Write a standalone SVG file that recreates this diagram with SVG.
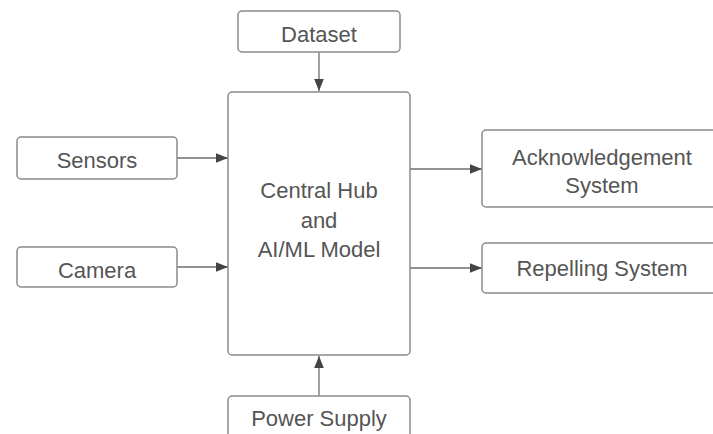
<svg xmlns="http://www.w3.org/2000/svg" width="713" height="434" viewBox="0 0 713 434">
<defs>
<style>
.box{fill:#fff;stroke:#8a8a8a;stroke-width:1.5}
.t{font-family:"Liberation Sans",Arial,sans-serif;font-size:22px;fill:#555;text-anchor:middle;dominant-baseline:central}
.c{stroke:#6e6e6e;stroke-width:1.3;fill:none;marker-end:url(#ah)}
</style>
<marker id="ah" viewBox="0 0 10 10" refX="10" refY="5" markerWidth="12" markerHeight="12" markerUnits="userSpaceOnUse" orient="auto">
<path d="M0,1 L10,5 L0,9 Z" fill="#444"/>
</marker>
</defs>
<rect width="713" height="434" fill="#fff"/>
<g id="connectors">
<line class="c" x1="319" y1="52" x2="319" y2="91"/>
<line class="c" x1="177" y1="158" x2="228" y2="158"/>
<line class="c" x1="177" y1="267" x2="228" y2="267"/>
<line class="c" x1="410" y1="169" x2="482" y2="169"/>
<line class="c" x1="410" y1="268" x2="482" y2="268"/>
<line class="c" x1="319" y1="396" x2="319" y2="356"/>
</g>
<g id="dataset"><rect class="box" x="238" y="11" width="162" height="41" rx="4"/><text class="t" x="319" y="34">Dataset</text></g>
<g id="hub"><rect class="box" x="228" y="92" width="182" height="263" rx="4"/>
<text class="t" x="319" y="190">Central Hub</text><text class="t" x="319" y="220">and</text><text class="t" x="319" y="249">AI/ML Model</text></g>
<g id="sensors"><rect class="box" x="17" y="137" width="160" height="42" rx="4"/><text class="t" x="97" y="160">Sensors</text></g>
<g id="camera"><rect class="box" x="17" y="247" width="160" height="40" rx="4"/><text class="t" x="97" y="270">Camera</text></g>
<g id="ack"><rect class="box" x="482" y="130" width="240" height="77" rx="4"/><text class="t" x="602" y="157">Acknowledgement</text><text class="t" x="602" y="185">System</text></g>
<g id="repel"><rect class="box" x="482" y="243" width="240" height="50" rx="4"/><text class="t" x="602" y="268">Repelling System</text></g>
<g id="power"><rect class="box" x="228" y="396" width="182" height="50" rx="4"/><text class="t" x="319" y="418">Power Supply</text></g>
</svg>
